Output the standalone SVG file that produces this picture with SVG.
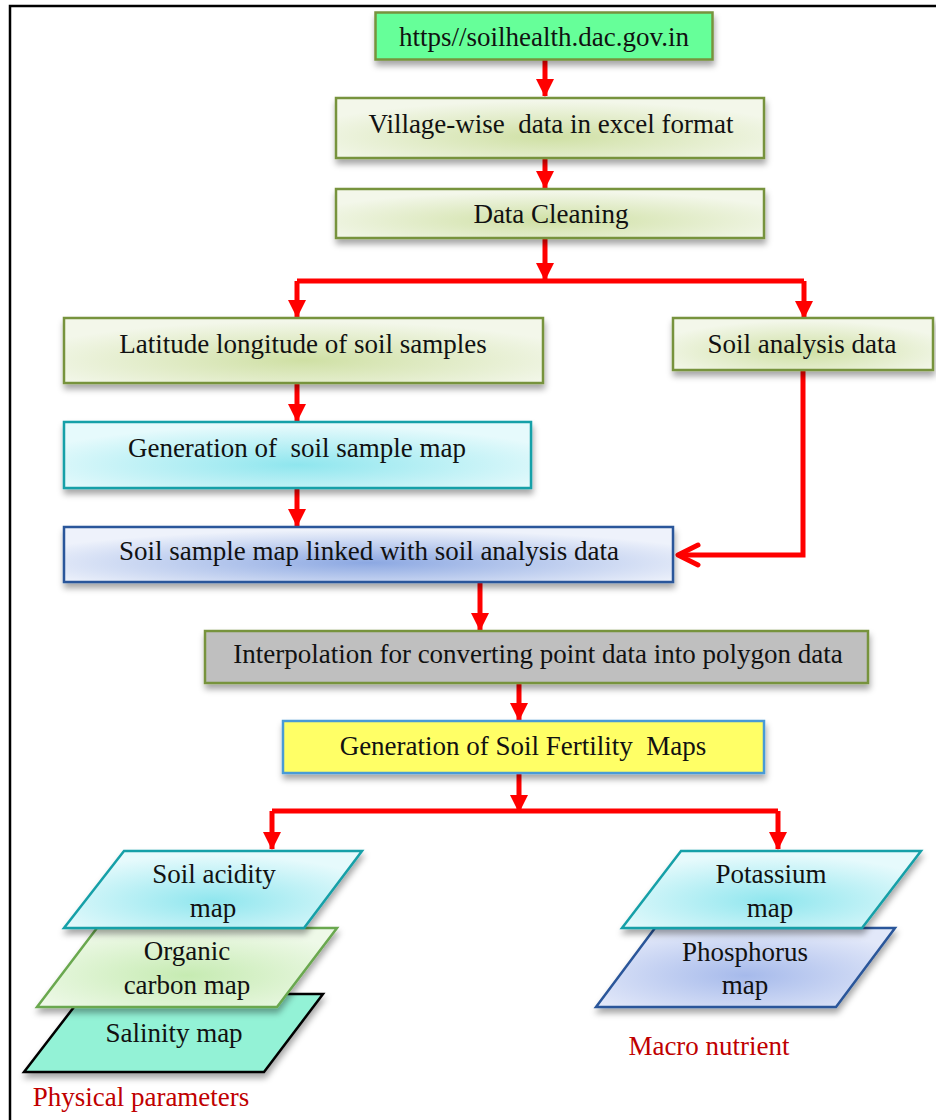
<svg xmlns="http://www.w3.org/2000/svg" width="936" height="1120" viewBox="0 0 936 1120">
<defs>
<style>
text{font-family:"Liberation Serif","Times New Roman",serif;font-size:27px;fill:#111;text-anchor:middle}
.lbl{fill:#C00000}
.box{stroke-width:2.5;filter:url(#sh)}
.olive{fill:url(#gOlive);stroke:#77933C}
.conn{stroke:#FF0000;stroke-width:5;fill:none}
.arr{marker-end:url(#ah)}
</style>
<filter id="sh" x="-10%" y="-20%" width="125%" height="160%">
<feDropShadow dx="1" dy="5" stdDeviation="3" flood-color="#000" flood-opacity="0.35"/>
</filter>
<radialGradient id="gOlive" cx="50%" cy="65%" r="60%">
<stop offset="0" stop-color="#CFE0A4"/><stop offset="1" stop-color="#F3F7EA"/>
</radialGradient>
<radialGradient id="gCyan" cx="50%" cy="65%" r="60%">
<stop offset="0" stop-color="#8FE6EE"/><stop offset="1" stop-color="#E6FAFC"/>
</radialGradient>
<radialGradient id="gBlue" cx="50%" cy="65%" r="60%">
<stop offset="0" stop-color="#8CA8E2"/><stop offset="1" stop-color="#EEF2FB"/>
</radialGradient>
<radialGradient id="gGreen" cx="50%" cy="60%" r="60%">
<stop offset="0" stop-color="#C6EBB2"/><stop offset="1" stop-color="#EEF9E8"/>
</radialGradient>
<radialGradient id="gPhos" cx="50%" cy="60%" r="60%">
<stop offset="0" stop-color="#A6BAEB"/><stop offset="1" stop-color="#E2E8F9"/>
</radialGradient>
<marker id="ah" markerUnits="userSpaceOnUse" markerWidth="18" markerHeight="18" viewBox="0 0 17 17" refX="16" refY="8.5" orient="auto">
<path d="M0,0 L17,8.5 L0,17 z" fill="#FF0000"/>
</marker>
</defs>
<rect x="10" y="6" width="960" height="1140" fill="none" stroke="#000" stroke-width="2.5"/>

<g id="connectors">
<path class="conn arr" d="M545,59 L545,96"/>
<path class="conn arr" d="M545,158 L545,188"/>
<path class="conn arr" d="M545,238 L545,280"/>
<path class="conn" d="M297,281 L804,281"/>
<path class="conn arr" d="M297,281 L297,317"/>
<path class="conn arr" d="M804,281 L804,318"/>
<path class="conn arr" d="M297,384 L297,421"/>
<path class="conn arr" d="M297,489 L297,526"/>
<path class="conn" d="M803,371 L803,555 L680,555"/>
<path class="conn" d="M698,545 L678,555 L698,565" stroke-linecap="round" stroke-linejoin="round"/>
<path class="conn arr" d="M480,583 L480,630"/>
<path class="conn arr" d="M519,684 L519,720"/>
<path class="conn arr" d="M519,774 L519,812"/>
<path class="conn" d="M272,811 L778,811"/>
<path class="conn arr" d="M272,811 L272,849"/>
<path class="conn arr" d="M778,811 L778,849"/>
</g>

<g id="n-url">
<rect class="box" x="375.5" y="12.5" width="337" height="47" fill="#66FF99" stroke="#77933C"/>
<text x="544" y="46">https//soilhealth.dac.gov.in</text>
</g>
<g id="n-village">
<rect class="box olive" x="336" y="98" width="428" height="60"/>
<text x="551" y="133" xml:space="preserve">Village-wise  data in excel format</text>
</g>
<g id="n-cleaning">
<rect class="box olive" x="336" y="189" width="428" height="49"/>
<text x="551" y="223">Data Cleaning</text>
</g>
<g id="n-latlong">
<rect class="box olive" x="64" y="318" width="479" height="65"/>
<text x="303" y="353">Latitude longitude of soil samples</text>
</g>
<g id="n-analysis">
<rect class="box olive" x="673" y="318" width="260" height="52"/>
<text x="802" y="353">Soil analysis data</text>
</g>
<g id="n-genmap">
<rect class="box" x="64" y="422" width="467" height="66" fill="url(#gCyan)" stroke="#17A0A8"/>
<text x="297" y="457" xml:space="preserve">Generation of  soil sample map</text>
</g>
<g id="n-linked">
<rect class="box" x="64" y="527" width="609" height="55" fill="url(#gBlue)" stroke="#2B579A"/>
<text x="369" y="560">Soil sample map linked with soil analysis data</text>
</g>
<g id="n-interp">
<rect class="box" x="205" y="631" width="663" height="52" fill="#BFBFBF" stroke="#77933C"/>
<text x="538" y="663">Interpolation for converting point data into polygon data</text>
</g>
<g id="n-fertility">
<rect class="box" x="283" y="721" width="481" height="52" fill="#FFFF66" stroke="#4A9BD6"/>
<text x="523" y="755" xml:space="preserve">Generation of Soil Fertility  Maps</text>
</g>

<g id="n-salinity">
<polygon class="box" points="84,994 323,994 264,1072 24,1072" fill="#93F2D6" stroke="#000"/>
<text x="174" y="1042">Salinity map</text>
</g>
<g id="n-organic">
<polygon class="box" points="97,928 337,928 277,1007 37,1007" fill="url(#gGreen)" stroke="#6AA84F"/>
<text x="187" y="960">Organic</text>
<text x="187" y="994">carbon map</text>
</g>
<g id="n-acidity">
<polygon class="box" points="124,851 362,851 304,928 64,928" fill="url(#gCyan)" stroke="#17A0A8"/>
<text x="214" y="883">Soil acidity</text>
<text x="213" y="917">map</text>
</g>
<g id="n-phosphorus">
<polygon class="box" points="655,928 895,928 836,1007 596,1007" fill="url(#gPhos)" stroke="#2B579A"/>
<text x="745" y="961">Phosphorus</text>
<text x="745" y="994">map</text>
</g>
<g id="n-potassium">
<polygon class="box" points="681,851 921,851 862,928 622,928" fill="url(#gCyan)" stroke="#17A0A8"/>
<text x="771" y="883">Potassium</text>
<text x="770" y="917">map</text>
</g>

<g id="labels">
<text class="lbl" x="141" y="1106">Physical parameters</text>
<text class="lbl" x="709" y="1055">Macro nutrient</text>
</g>
</svg>
